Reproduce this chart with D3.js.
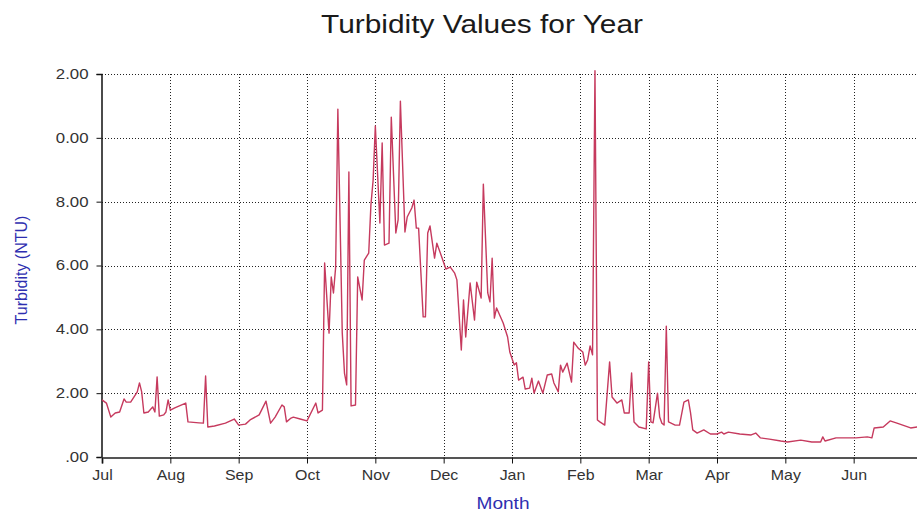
<!DOCTYPE html>
<html>
<head>
<meta charset="utf-8">
<script src="https://cdn.jsdelivr.net/npm/d3@7/dist/d3.min.js"></script>
<style>
  html, body { margin: 0; padding: 0; background: #fff; }
  svg { display: block; }
  text { font-family: Arial, "Liberation Sans", sans-serif; }
</style>
</head>
<body>
<svg id="chart" width="917" height="511"></svg>
<script>
// Months of the water year, Jul .. Jun
const months = ["Jul", "Aug", "Sep", "Oct", "Nov", "Dec", "Jan", "Feb", "Mar", "Apr", "May", "Jun"];
// Day offset (from Jul 1) where each month starts, plus the end of the year
const monthStartDay = [0, 31, 62, 92, 123, 153, 184, 215, 243, 274, 304, 335, 365];
// Turbidity axis ticks
const yTicks = [0, 2, 4, 6, 8, 10, 12];

// Sample day (days since Jul 1)
const sampleDay = [
  0, 2, 4, 6, 8, 10, 11, 13, 16, 17, 18, 19, 21, 23, 24, 25, 26, 28, 29, 30,
  31, 33, 38, 39, 44, 46, 47, 48, 51, 56, 60, 62, 65, 67, 71, 74, 76, 78, 81, 82,
  83, 85, 86, 89, 92, 96, 97, 99, 100, 102, 103, 104, 105, 106, 108, 109, 110, 111, 112, 114,
  115, 117, 118, 120, 121, 122, 123, 125, 126, 127, 129, 130, 132, 133, 134, 136, 137, 139, 140, 141,
  142, 144, 145, 146, 147, 149, 150, 152, 154, 156, 158, 159, 161, 162, 163, 165, 167, 168, 170, 171,
  173, 174, 175, 176, 177, 180, 182, 183, 185, 186, 187, 189, 190, 192, 193, 194, 196, 198, 200, 202,
  203, 205, 206, 207, 209, 211, 212, 214, 216, 217, 218, 219, 220, 221, 222, 223, 225, 227, 228, 230,
  232, 233, 235, 236, 237, 239, 242, 243, 244, 245, 247, 248, 249, 250, 251, 252, 255, 257, 259, 261,
  262, 263, 265, 268, 271, 274, 276, 277, 279, 284, 289, 291, 293, 297, 302, 305, 311, 316, 320, 321,
  322, 327, 332, 336, 341, 343, 344, 348, 351, 354, 360, 363
];
// Turbidity (NTU) on each sample day
const turbidity = [
  1.79, 1.69, 1.25, 1.38, 1.41, 1.82, 1.72, 1.72, 2.04, 2.32, 2.04, 1.38, 1.41, 1.57, 1.41, 2.51, 1.28, 1.32, 1.41, 1.79,
  1.47, 1.54, 1.69, 1.10, 1.07, 1.06, 2.54, 0.94, 0.97, 1.06, 1.19, 1.00, 1.03, 1.16, 1.32, 1.75, 1.06, 1.25, 1.63, 1.57,
  1.10, 1.22, 1.25, 1.19, 1.13, 1.69, 1.38, 1.47, 6.08, 3.88, 5.64, 5.14, 5.95, 10.90, 3.88, 2.63, 2.26, 8.93, 1.60, 1.63,
  5.64, 4.92, 6.17, 6.39, 7.90, 8.68, 10.37, 7.33, 9.84, 6.64, 6.70, 10.65, 7.02, 7.43, 11.15, 7.05, 7.52, 7.80, 8.05, 7.17,
  7.17, 4.39, 4.39, 7.02, 7.24, 6.23, 6.70, 6.30, 5.89, 5.95, 5.76, 5.55, 3.35, 4.92, 3.76, 5.45, 4.29, 5.48, 4.98, 8.55,
  5.14, 4.86, 6.23, 4.35, 4.67, 4.20, 3.76, 3.29, 2.88, 2.95, 2.41, 2.50, 2.13, 2.16, 2.47, 2.00, 2.38, 2.00, 2.57, 2.60,
  2.32, 2.04, 2.88, 2.66, 2.94, 2.35, 3.60, 3.41, 3.29, 2.88, 3.04, 3.48, 3.20, 12.10, 1.16, 1.10, 1.00, 2.98, 1.88, 1.69,
  1.79, 1.38, 1.38, 2.63, 1.10, 0.94, 0.88, 2.98, 1.10, 1.07, 2.00, 1.25, 1.06, 1.00, 4.10, 1.10, 1.00, 1.00, 1.72, 1.79,
  1.38, 0.85, 0.75, 0.85, 0.72, 0.72, 0.78, 0.72, 0.78, 0.72, 0.69, 0.75, 0.60, 0.56, 0.50, 0.47, 0.53, 0.47, 0.47, 0.63,
  0.50, 0.60, 0.60, 0.60, 0.63, 0.60, 0.91, 0.94, 1.13, 1.06, 0.91, 0.94
];

const svg = d3.select("#chart");
const plotLeft = 102, plotRight = 922, plotTop = 74, plotBottom = 457;
// The chart's lettering is set slightly wide
const stretchX = 1.2;

// Months are drawn with equal width, so map each month start to an evenly spaced position
const monthStep = (plotRight - plotLeft) / 12;
const x = d3.scaleLinear()
  .domain(monthStartDay)
  .range(monthStartDay.map((d, i) => plotLeft + i * monthStep));
const y = d3.scaleLinear().domain([0, 12]).range([plotBottom, plotTop]);

const fmt = v => d3.format(".2f")(v).replace(/^0\./, ".");

// Title
svg.append("text")
  .attr("x", 482).attr("y", 33)
  .attr("text-anchor", "middle")
  .attr("font-size", 25)
  .attr("textLength", 322)
  .attr("lengthAdjust", "spacingAndGlyphs")
  .attr("fill", "#1a1a1a")
  .text("Turbidity Values for Year");

// Grid: dotted lines at every tick
const grid = svg.append("g").attr("stroke", "#222").attr("stroke-dasharray", "1,2").attr("stroke-width", 1);
grid.selectAll("line.h").data(yTicks.filter(v => v > 0)).join("line")
  .attr("class", "h")
  .attr("x1", plotLeft).attr("x2", plotRight)
  .attr("y1", d => Math.round(y(d)) + 0.5).attr("y2", d => Math.round(y(d)) + 0.5);
grid.selectAll("line.v").data(monthStartDay.slice(1, 12)).join("line")
  .attr("class", "v")
  .attr("y1", plotTop).attr("y2", plotBottom)
  .attr("x1", d => Math.round(x(d)) + 0.5).attr("x2", d => Math.round(x(d)) + 0.5);

// Y axis; its labels sit in a box that crops the leading digit of wide values
svg.append("clipPath").attr("id", "ylabclip")
  .append("rect").attr("x", 56).attr("y", 0).attr("width", 80).attr("height", 511);
const yWrap = svg.append("g").attr("clip-path", "url(#ylabclip)");
const yAxis = yWrap.append("g")
  .attr("transform", `translate(${plotLeft - 0.5},0)`)
  .call(d3.axisLeft(y).tickValues(yTicks).tickFormat(fmt).tickSize(5).tickPadding(8));
yAxis.select(".domain").attr("stroke", "#111").attr("stroke-width", 1.5);
yAxis.selectAll(".tick line").attr("stroke", "#111");
yAxis.selectAll(".tick text")
  .attr("font-size", 14).attr("fill", "#333")
  .attr("font-family", "Arial, 'Liberation Sans', sans-serif")
  .attr("x", -13 / stretchX)
  .attr("transform", `scale(${stretchX},1)`);

// X axis
const xAxis = svg.append("g")
  .attr("transform", `translate(0,${plotBottom + 0.5})`)
  .call(d3.axisBottom(x).tickValues(monthStartDay.slice(0, 12))
    .tickFormat((d, i) => months[i]).tickSize(6).tickPadding(7));
xAxis.select(".domain").attr("stroke", "#555").attr("stroke-width", 2);
xAxis.selectAll(".tick line").attr("stroke", "#111");
xAxis.selectAll(".tick text")
  .attr("font-size", 14).attr("fill", "#333")
  .attr("font-family", "Arial, 'Liberation Sans', sans-serif")
  .attr("transform", "scale(1.14,1)");

// Axis titles
svg.append("text")
  .attr("x", 503).attr("y", 509)
  .attr("text-anchor", "middle")
  .attr("font-size", 16)
  .attr("textLength", 53)
  .attr("lengthAdjust", "spacingAndGlyphs")
  .attr("fill", "#2e2eb0")
  .text("Month");
svg.append("text")
  .attr("transform", "translate(27,270) rotate(-90)")
  .attr("text-anchor", "middle")
  .attr("font-size", 16)
  .attr("fill", "#2e2eb0")
  .text("Turbidity (NTU)");

// Turbidity series
const series = sampleDay.map((d, i) => ({ day: d, value: turbidity[i] }));
svg.append("path")
  .datum(series)
  .attr("fill", "none")
  .attr("stroke", "#c63a5e")
  .attr("stroke-width", 1.4)
  .attr("stroke-linejoin", "round")
  .attr("d", d3.line().x(d => x(d.day)).y(d => y(d.value)));
</script>
</body>
</html>
